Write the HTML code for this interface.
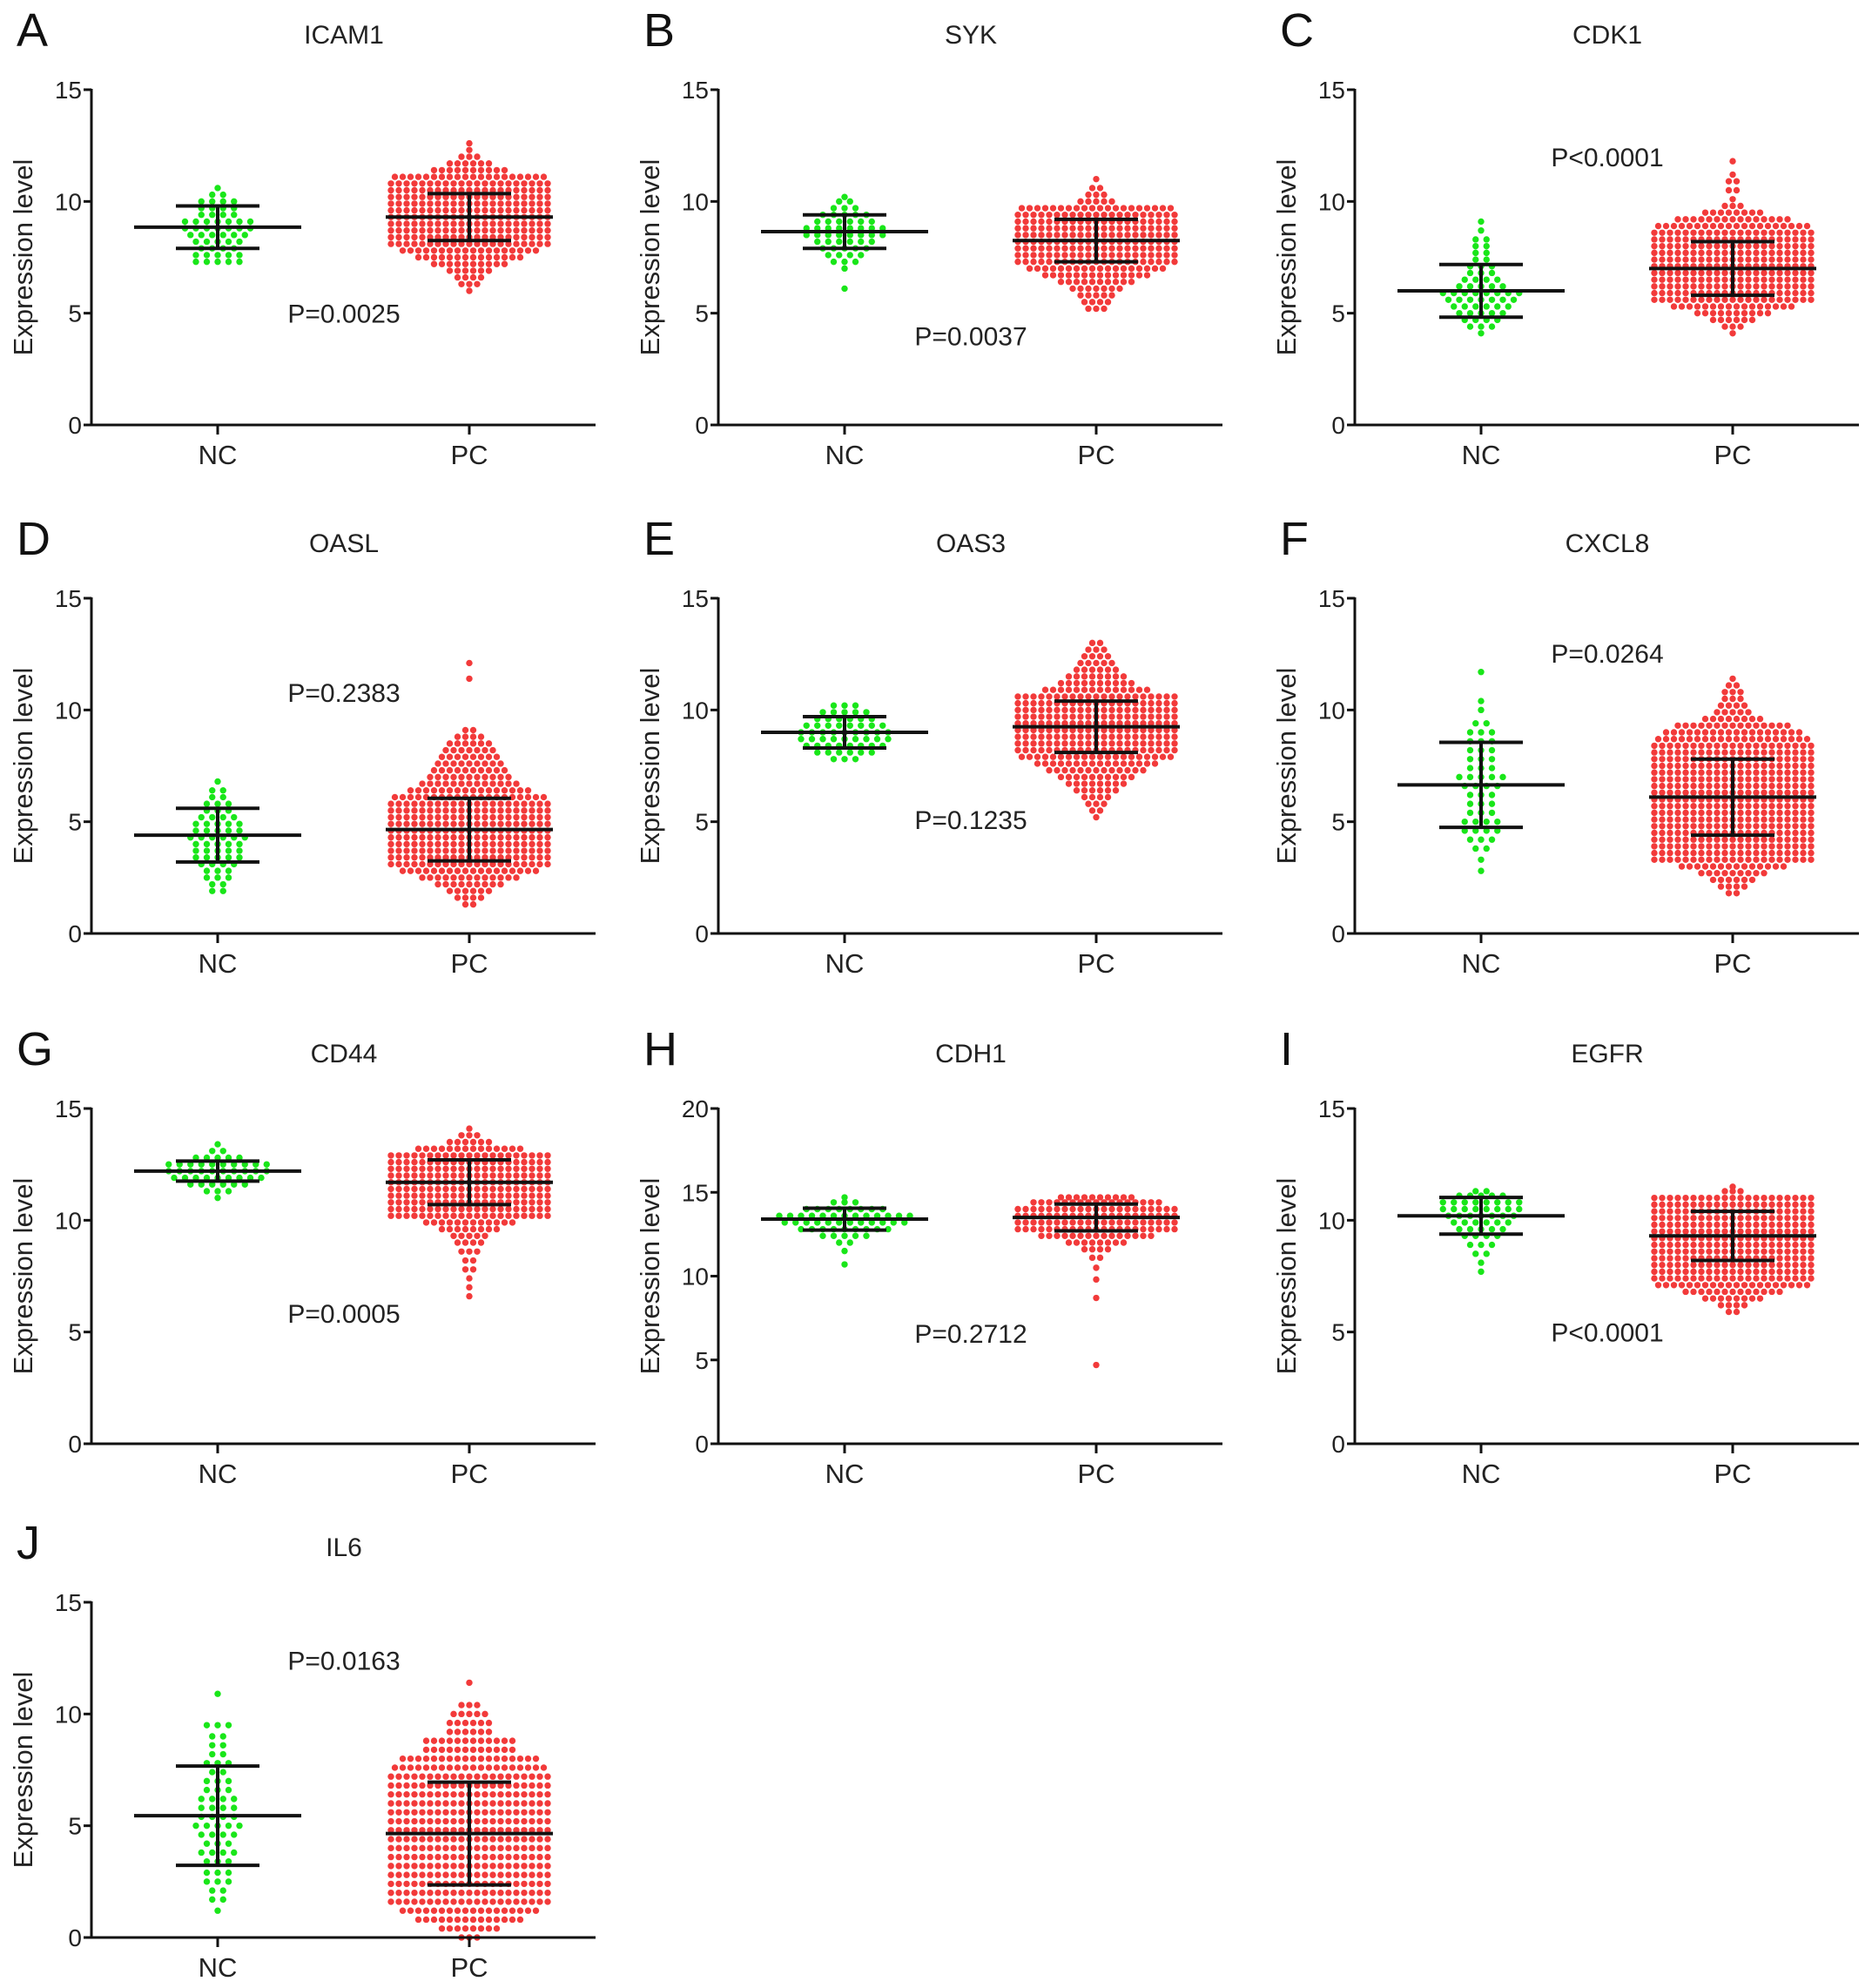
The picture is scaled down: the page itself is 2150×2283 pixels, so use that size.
<!DOCTYPE html>
<html><head><meta charset="utf-8">
<style>
html,body{margin:0;padding:0;background:#fff;}
svg{display:block;font-family:"Liberation Sans",Arial,sans-serif;}
</style></head>
<body>
<svg id="fig" width="2150" height="2283" viewBox="0 0 2150 2283" xmlns="http://www.w3.org/2000/svg"></svg>
<script>
const panelLetters=["A","B","C","D","E","F","G","H","I","J"];
const genes=["ICAM1","SYK","CDK1","OASL","OAS3","CXCL8","CD44","CDH1","EGFR","IL6"];
const categories=["NC","PC"];
const yMax=[15,15,15,15,15,15,15,20,15,15];
const yTicks=[[0,5,10,15],[0,5,10,15],[0,5,10,15],[0,5,10,15],[0,5,10,15],[0,5,10,15],[0,5,10,15],[0,5,10,15,20],[0,5,10,15],[0,5,10,15]];
const pLabels=["P=0.0025","P=0.0037","P<0.0001","P=0.2383","P=0.1235","P=0.0264","P=0.0005","P=0.2712","P<0.0001","P=0.0163"];
const pValueY=[5.0,4.0,12.0,10.8,5.1,12.55,5.85,6.6,5.0,12.4];
const ncMean=[8.85,8.65,6.0,4.4,9.0,6.65,12.2,13.4,10.2,5.45];
const ncSD=[0.95,0.75,1.18,1.2,0.7,1.9,0.45,0.65,0.82,2.22];
const pcMean=[9.3,8.25,7.0,4.65,9.25,6.1,11.7,13.5,9.3,4.65];
const pcSD=[1.05,0.95,1.2,1.4,1.15,1.7,1.0,0.8,1.1,2.3];
const ncLevels=[
[7.3,7.6,7.9,8.2,8.5,8.8,9.1,9.4,9.7,10.0,10.3,10.6],
[6.1,7.0,7.3,7.6,7.9,8.2,8.5,8.8,9.1,9.4,9.7,10.0,10.2],
[4.1,4.4,4.7,5.0,5.3,5.6,5.9,6.2,6.5,6.8,7.1,7.4,7.7,8.0,8.3,8.7,9.1],
[1.9,2.2,2.5,2.8,3.1,3.4,3.7,4.0,4.3,4.6,4.9,5.2,5.5,5.8,6.1,6.4,6.8],
[7.8,8.1,8.4,8.7,9.0,9.3,9.6,9.9,10.2],
[2.8,3.3,3.8,4.2,4.6,5.0,5.4,5.8,6.2,6.6,7.0,7.4,7.8,8.2,8.6,9.0,9.4,10.0,10.4,11.7],
[11.0,11.3,11.6,11.9,12.2,12.5,12.8,13.1,13.4],
[10.7,11.5,12.0,12.4,12.8,13.2,13.6,14.0,14.4,14.7],
[7.7,8.1,8.5,8.9,9.3,9.6,9.9,10.2,10.5,10.8,11.1,11.3],
[1.2,1.7,2.1,2.5,2.9,3.4,3.8,4.2,4.6,5.0,5.4,5.8,6.2,6.6,7.0,7.4,7.8,8.2,8.6,9.0,9.5,10.9]
];
const ncCounts=[
[5,5,4,5,6,7,7,4,4,4,2,1],
[1,1,3,4,5,6,8,8,6,5,3,2,1],
[1,3,4,5,6,7,8,5,4,3,3,2,2,2,2,1,1],
[2,2,3,3,4,5,5,5,6,5,5,4,3,3,2,2,1],
[3,6,8,9,9,8,6,5,3],
[1,1,2,3,4,4,3,3,3,4,5,3,3,3,3,3,2,1,1,1],
[1,3,6,9,10,10,5,2,1],
[1,1,2,5,9,12,13,8,3,1],
[1,1,2,3,4,5,6,7,8,8,5,2],
[1,2,2,3,3,3,4,3,4,5,4,4,4,3,3,2,3,2,2,2,3,1]
];
const pcLevels=[
[6.0,6.3,6.6,6.9,7.2,7.5,7.8,8.1,8.4,8.7,9.0,9.3,9.6,9.9,10.2,10.5,10.8,11.1,11.4,11.7,12.0,12.3,12.6],
[5.2,5.5,5.8,6.1,6.4,6.7,7.0,7.3,7.6,7.9,8.2,8.5,8.8,9.1,9.4,9.7,10.0,10.3,10.6,11.0],
[4.1,4.4,4.7,5.0,5.3,5.6,5.9,6.2,6.5,6.8,7.1,7.4,7.7,8.0,8.3,8.6,8.9,9.2,9.5,9.8,10.1,10.5,10.9,11.2,11.8],
[1.3,1.6,1.9,2.2,2.5,2.8,3.1,3.4,3.7,4.0,4.3,4.6,4.9,5.2,5.5,5.8,6.1,6.4,6.7,7.0,7.3,7.6,7.9,8.2,8.5,8.8,9.1,11.4,12.1],
[5.2,5.5,5.8,6.1,6.4,6.7,7.0,7.3,7.6,7.9,8.2,8.5,8.8,9.1,9.4,9.7,10.0,10.3,10.6,10.9,11.2,11.5,11.8,12.1,12.4,12.7,13.0],
[1.8,2.1,2.4,2.7,3.0,3.3,3.6,3.9,4.2,4.5,4.8,5.1,5.4,5.7,6.0,6.3,6.6,6.9,7.2,7.5,7.8,8.1,8.4,8.7,9.0,9.3,9.6,9.9,10.2,10.5,10.8,11.1,11.4],
[6.6,7.0,7.4,7.8,8.2,8.6,9.0,9.3,9.6,9.9,10.2,10.5,10.8,11.1,11.4,11.7,12.0,12.3,12.6,12.9,13.2,13.5,13.8,14.1],
[4.7,8.7,9.8,10.5,11.1,11.6,12.0,12.4,12.8,13.2,13.6,14.0,14.4,14.7],
[5.9,6.2,6.5,6.8,7.1,7.4,7.7,8.0,8.3,8.6,8.9,9.2,9.5,9.8,10.1,10.4,10.7,11.0,11.3,11.5],
[0.0,0.4,0.8,1.2,1.6,2.0,2.4,2.8,3.2,3.6,4.0,4.4,4.8,5.2,5.6,6.0,6.4,6.8,7.2,7.6,8.0,8.4,8.8,9.2,9.6,10.0,10.4,11.4]
];
const pcCounts=[
[1,3,4,6,10,14,18,21,21,21,21,21,21,21,21,21,21,20,10,6,3,1,1],
[3,4,5,7,10,14,18,21,21,21,21,21,21,21,21,20,5,3,2,1],
[1,3,6,10,16,21,21,21,21,21,21,21,21,21,21,21,20,15,8,3,1,2,2,1,1],
[2,4,6,9,13,18,21,21,21,21,21,21,21,21,21,21,20,16,13,11,10,9,8,7,6,4,2,1,1],
[1,2,3,4,6,8,10,13,16,20,21,21,21,21,21,21,21,21,21,14,10,8,6,5,4,3,2],
[2,4,6,9,14,21,21,21,21,21,21,21,21,21,21,21,21,21,21,21,21,21,21,20,18,15,8,5,4,3,3,2,1],
[1,1,1,2,2,3,4,5,8,12,21,21,21,21,21,21,21,21,21,21,14,6,3,1],
[1,1,1,1,2,4,8,15,21,21,21,21,17,10],
[2,4,8,13,20,21,21,21,21,21,21,21,21,21,21,21,21,21,3,1],
[3,8,14,18,21,21,21,21,21,21,21,21,21,21,21,21,21,21,21,20,18,12,12,6,6,5,3,1]
];

const NS="http://www.w3.org/2000/svg";
const svg=document.getElementById('fig');
const colAxisX=[105,825,1556];
const rowTopY=[103,687,1273,1840];
const plotH=385, axisLen=579, ncOff=145, pcOff=434;
const dotR=3.7, gapNC=12.5, gapPC=9;

function mk(tag,attrs,parent,text){
  const e=document.createElementNS(NS,tag);
  for(const k in attrs) e.setAttribute(k,attrs[k]);
  if(text!==undefined) e.textContent=text;
  parent.appendChild(e);
  return e;
}

genes.forEach((gene,p)=>{
  const ax=colAxisX[p%3], top=rowTopY[Math.floor(p/3)], zero=top+plotH;
  const yScale=v=>zero-v/yMax[p]*plotH;
  const xCat=i=>ax+(i===0?ncOff:pcOff);
  const g=mk('g',{},svg);
  
  

  const letter=mk('text',{x:ax-86,y:top-50,'font-size':54,fill:'#111'},g,panelLetters[p]);
  
  
  const title=mk('text',{x:ax+290,y:top-53,'font-size':30,'text-anchor':'middle',fill:'#222'},g,gene);
  
  

  const yl=mk('text',{x:0,y:0,'font-size':31,'text-anchor':'middle',fill:'#222',transform:`translate(${ax-68},${top+plotH/2}) rotate(-90)`},g,'Expression level');
  
  

  [[ncLevels[p],ncCounts[p],'#19e619',0,gapNC],[pcLevels[p],pcCounts[p],'#f23a3a',1,gapPC]].forEach(([lv,cn,col,ci,gap])=>{
    const cx=xCat(ci);
    lv.forEach((v,k)=>{
      const n=cn[k];
      for(let i=0;i<n;i++){
        const c=mk('circle',{cx:cx+(i-(n-1)/2)*gap,cy:yScale(v),r:dotR,fill:col},g);
        
        
      }
    });
  });

  [[ncMean[p],ncSD[p],0],[pcMean[p],pcSD[p],1]].forEach(([m,s,ci])=>{
    const cx=xCat(ci);
    const eb=mk('g',{stroke:'#111','stroke-width':4,fill:'none'},g);
    
    
    mk('line',{x1:cx-96,x2:cx+96,y1:yScale(m),y2:yScale(m)},eb);
    mk('line',{x1:cx,x2:cx,y1:yScale(m+s),y2:yScale(m-s)},eb);
    mk('line',{x1:cx-48,x2:cx+48,y1:yScale(m+s),y2:yScale(m+s)},eb);
    mk('line',{x1:cx-48,x2:cx+48,y1:yScale(m-s),y2:yScale(m-s)},eb);
  });

  const axes=mk('g',{stroke:'#111','stroke-width':3,fill:'none'},g);
  
  
  mk('line',{x1:ax,x2:ax,y1:top-1,y2:zero},axes);
  mk('line',{x1:ax-1.5,x2:ax+axisLen,y1:zero,y2:zero},axes);
  yTicks[p].forEach(t=>{
    mk('line',{x1:ax-9,x2:ax,y1:yScale(t),y2:yScale(t)},axes);
    const tl=mk('text',{x:ax-11,y:yScale(t)+10,'font-size':28,'text-anchor':'end',fill:'#222',stroke:'none'},g,String(t));
    
    
  });
  categories.forEach((c,ci)=>{
    mk('line',{x1:xCat(ci),x2:xCat(ci),y1:zero,y2:zero+11},axes);
    const xl=mk('text',{x:xCat(ci),y:zero+45,'font-size':31,'text-anchor':'middle',fill:'#222'},g,c);
    
    
  });

  const pt=mk('text',{x:ax+290,y:yScale(pValueY[p])+11,'font-size':30,'text-anchor':'middle',fill:'#222'},g,pLabels[p]);
  
  
});
</script>
</body></html>
